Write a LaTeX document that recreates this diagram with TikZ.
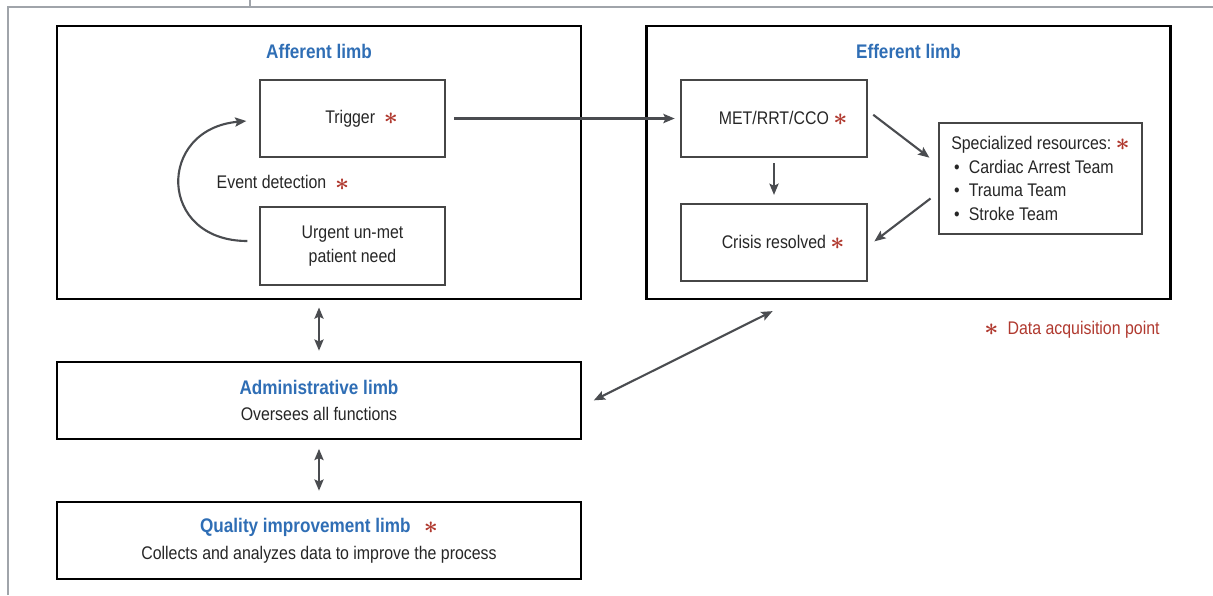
\documentclass[tikz,border=0pt]{standalone}
\usepackage{fontspec}
\setmainfont[FakeStretch=0.87]{Liberation Sans}
\usetikzlibrary{arrows.meta,calc}
\definecolor{limbblue}{RGB}{47,110,181}
\definecolor{dapred}{RGB}{176,57,47}
\definecolor{arrgray}{RGB}{74,76,80}
\definecolor{boxgray}{RGB}{70,70,70}
\definecolor{framegray}{RGB}{160,164,170}
\newcommand{\dap}{\textcolor{dapred}{\raisebox{-1pt}{\scalebox{1.45}{\boldmath$\ast$}}}}
\newcommand{\limbfont}{\fontsize{14}{17}\selectfont\bfseries}

\begin{document}
\begin{tikzpicture}[x=0.025cm,y=-0.025cm,
  every node/.style={font=\fontsize{13}{17}\selectfont,text=black!85},
  limb/.style={draw=black,line width=2pt,minimum width=13.1cm,minimum height=6.825cm,inner sep=2pt,align=center},
  title/.style={font=\limbfont,text=limbblue},
  box/.style={draw=boxgray,line width=0.9pt,minimum width=4.625cm,minimum height=1.925cm,inner sep=2pt,align=center},
  arr/.style={draw=arrgray,line width=1.5pt,-{Stealth[length=8pt,width=6.5pt,inset=1.5pt]}},
  dbl/.style={draw=arrgray,line width=1.5pt,{Stealth[length=8pt,width=6.5pt,inset=1.5pt]}-{Stealth[length=8pt,width=6.5pt,inset=1.5pt]}},
  frame/.style={draw=framegray,line width=1.6pt}]
\useasboundingbox (0,0) rectangle (1213,595);
% page frame
 \draw[frame] (8,595) -- (8,7) -- (1213,7);
 \draw[frame] (250,0) -- (250,7);

% afferent limb
 \node[limb] (aff) at (319,162.5) {};
 \node[title] (afft) at ($(aff.north)+(0,27)$) {Afferent limb};
 \node[box] (trig) at (352.5,118.5) {\quad Trigger \ \dap};
 \node[box,minimum height=1.95cm] (urg) at (352.5,246) {Urgent un-met\\patient need};
 \node (evt) at (283,183) {Event detection \ \dap};
 \draw[arr] ($(urg.west)+(-12,-5)$) .. controls +(-90,0) and +(-90,8) .. ($(trig.west)+(-13,2.5)$);

% efferent limb
 \node[limb] (eff) at (908.5,162.5) {};
 \node[title] (efft) at ($(eff.north)+(0,27)$) {Efferent limb};
 \node[box,minimum width=4.65cm] (met) at (774,118.5) {\quad MET/RRT/CCO \dap};
 \node[box,minimum width=4.65cm] (cri) at (774,242.5) {\quad Crisis resolved \dap};
 \node[box,minimum width=5.075cm,minimum height=2.775cm,align=left] (spec) at (1040.5,178.5)
  {Specialized resources:\ \dap\\
   \hspace{2pt}\textbullet\enspace Cardiac Arrest Team\\
   \hspace{2pt}\textbullet\enspace Trauma Team\\
   \hspace{2pt}\textbullet\enspace Stroke Team};
 \draw[arr,shorten <=6pt,shorten >=4pt] (trig.east) -- (met.west);
 \draw[arr,shorten <=5pt,shorten >=8pt] ($(met.east)+(0,-8)$) -- ($(spec.west)+(0,-14)$);
 \draw[arr,shorten <=7pt,shorten >=6pt] ($(spec.west)+(0,14)$) -- ($(cri.east)+(0,4)$);
 \draw[arr,shorten <=4pt,shorten >=6pt] (met.south) -- (cri.north);

% administrative and quality improvement limbs
 \node[limb,minimum height=1.925cm] (adm) at (319,400.5)
  {{\limbfont\color{limbblue}Administrative limb}\\[2pt]Oversees all functions};
 \node[limb,minimum height=1.925cm] (qi) at (319,540.5)
  {{\limbfont\color{limbblue}Quality improvement limb}\ \ \ \dap\\[2pt]Collects and analyzes data to improve the process};
 \draw[dbl,shorten <=5pt,shorten >=7pt] (aff.south) -- (adm.north);
 \draw[dbl,shorten <=6pt,shorten >=7pt] (adm.south) -- (qi.north);
 \draw[dbl,shorten <=9pt,shorten >=17pt] ($(adm.east)+(0,5.5)$) -- ($(eff.south west)+(149,0)$);

% legend
 \node[text=dapred] (legend) at ($(eff.south east)+(-100,29)$) {\dap\enspace Data acquisition point};
\end{tikzpicture}
\end{document}
